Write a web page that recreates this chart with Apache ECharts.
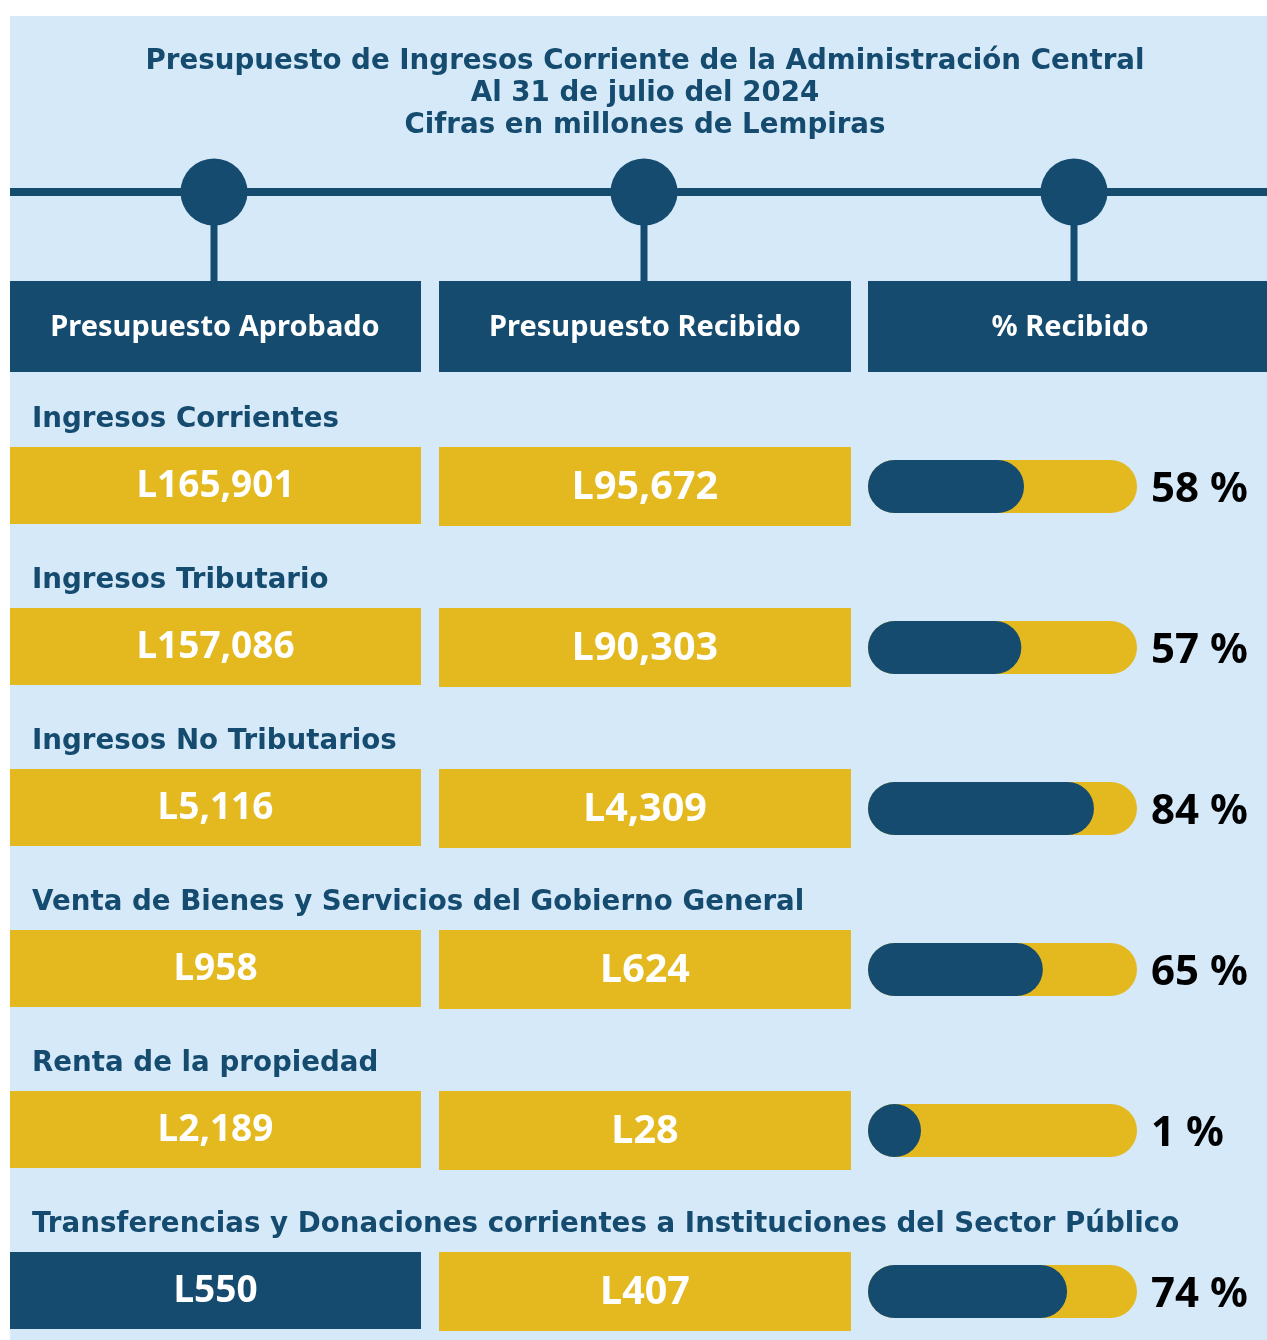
<!DOCTYPE html>
<html><head><meta charset="utf-8">
<script src="https://cdn.jsdelivr.net/npm/echarts@6/dist/echarts.min.js"></script>
<style>html,body{margin:0;padding:0;background:#fff}#c{width:1267px;height:1340px}</style>
</head><body><div id="c"></div>
<script>
// ---- DATA ----
const titleLines = ['Presupuesto de Ingresos Corriente de la Administración Central', 'Al 31 de julio del 2024', 'Cifras en millones de Lempiras'];
const headers = ['Presupuesto Aprobado', 'Presupuesto Recibido', '% Recibido'];
const categories = ['Ingresos Corrientes', 'Ingresos Tributario', 'Ingresos No Tributarios', 'Venta de Bienes y Servicios del Gobierno General', 'Renta de la propiedad', 'Transferencias y Donaciones corrientes a Instituciones del Sector Público'];
const approved = [165901, 157086, 5116, 958, 2189, 550];
const received = [95672, 90303, 4309, 624, 28, 407];
const pctReceived = [58, 57, 84, 65, 1, 74];

// ---- STYLE / LAYOUT ----
const NAVY = '#154b6f', YELLOW = '#e3b91f', BG = '#d5e9f9';
const TITLE_FONT = '"DejaVu Sans"', BODY_FONT = '"Noto Sans"';
const FIRST = 486.5, STEP = 161;
const cols = [{ left: 10, width: 411 }, { left: 439, width: 412 }, { left: 868, width: 269 }];
const headerRects = [{ x: 10, w: 411, tx: 215 }, { x: 439, w: 412, tx: 645 }, { x: 868, w: 399, tx: 1070 }];
const knots = [214, 644, 1074];
const highlightApprovedRow = 5;

const fmt = v => 'L' + v.toLocaleString('en-US');

const chart = echarts.init(document.getElementById('c'), null, { renderer: 'canvas' });

const graphics = [];
graphics.push({ type: 'rect', shape: { x: 10, y: 16, width: 1257, height: 1324 }, style: { fill: BG }, z: -10, silent: true });
titleLines.forEach((t, i) => graphics.push({
  type: 'text', x: 645, y: 62 + 32 * i, silent: true,
  style: { text: t, fill: NAVY, font: '700 27.7px ' + TITLE_FONT, textAlign: 'center', textVerticalAlign: 'middle' }
}));
graphics.push({ type: 'rect', shape: { x: 10, y: 188, width: 1257, height: 8 }, style: { fill: NAVY }, silent: true });
knots.forEach(x => {
  graphics.push({ type: 'rect', shape: { x: x - 3.5, y: 192, width: 7, height: 92 }, style: { fill: NAVY }, silent: true });
  graphics.push({ type: 'circle', shape: { cx: x, cy: 192, r: 33.5 }, style: { fill: NAVY }, silent: true });
});
headers.forEach((h, i) => {
  const r = headerRects[i];
  graphics.push({ type: 'rect', shape: { x: r.x, y: 281, width: r.w, height: 91 }, style: { fill: NAVY }, silent: true });
  graphics.push({ type: 'text', x: r.tx, y: 328, silent: true,
    style: { text: h, fill: '#ffffff', font: '700 29px ' + BODY_FONT, textAlign: 'center', textVerticalAlign: 'middle' } });
});

function cellSeries(gridIndex, values, boxH, fontSize, dy, fillFn, withLabel) {
  return {
    type: 'custom', xAxisIndex: gridIndex, yAxisIndex: gridIndex, silent: true,
    data: values.map((v, i) => [i, v]),
    encode: { y: 0 },
    renderItem: function (params, api) {
      const idx = api.value(0);
      const cs = params.coordSys;
      const cy = api.coord([0, idx])[1];
      const children = [
        { type: 'rect', shape: { x: cs.x, y: cy - boxH / 2 + dy, width: cs.width, height: boxH }, style: { fill: fillFn(idx) } },
        { type: 'text', x: cs.x + cs.width / 2, y: cy + dy + 1, style: { text: fmt(api.value(1)), fill: '#ffffff', font: '700 ' + fontSize + 'px ' + BODY_FONT, textAlign: 'center', textVerticalAlign: 'middle' } }
      ];
      if (withLabel) {
        children.push({ type: 'text', x: 32, y: cy - 67, style: { text: categories[idx], fill: NAVY, font: '700 27.7px ' + TITLE_FONT, textAlign: 'left', textVerticalAlign: 'middle' } });
      }
      return { type: 'group', children: children };
    }
  };
}

const option = {
  backgroundColor: '#ffffff',
  animation: false,
  graphic: graphics,
  grid: cols.map(c => ({ left: c.left, width: c.width, top: FIRST, height: STEP * (categories.length - 1) })),
  xAxis: cols.map((c, i) => ({ type: 'value', gridIndex: i, min: 0, max: i === 2 ? 100 : 1, show: false })),
  yAxis: cols.map((c, i) => ({ type: 'category', gridIndex: i, data: categories, inverse: true, boundaryGap: false, show: false })),
  series: [
    cellSeries(0, approved, 77, 37, -1, i => i === highlightApprovedRow ? NAVY : YELLOW, true),
    cellSeries(1, received, 79, 39.5, 0, () => YELLOW, false),
    {
      type: 'bar', xAxisIndex: 2, yAxisIndex: 2, silent: true,
      data: pctReceived, barWidth: 53, barMinHeight: 53,
      showBackground: true, backgroundStyle: { color: YELLOW, borderRadius: 26.5 },
      itemStyle: { color: NAVY, borderRadius: 26.5 }
    },
    {
      type: 'custom', xAxisIndex: 2, yAxisIndex: 2, silent: true,
      data: pctReceived.map((v, i) => [i, v]), encode: { y: 0 },
      renderItem: function (params, api) {
        const cs = params.coordSys;
        const cy = api.coord([0, api.value(0)])[1];
        return { type: 'text', x: cs.x + cs.width + 14, y: cy + 4,
          style: { text: api.value(1) + ' %', fill: '#000000', font: '700 42px ' + BODY_FONT, textAlign: 'left', textVerticalAlign: 'middle' } };
      }
    }
  ]
};
chart.setOption(option);
</script></body></html>
